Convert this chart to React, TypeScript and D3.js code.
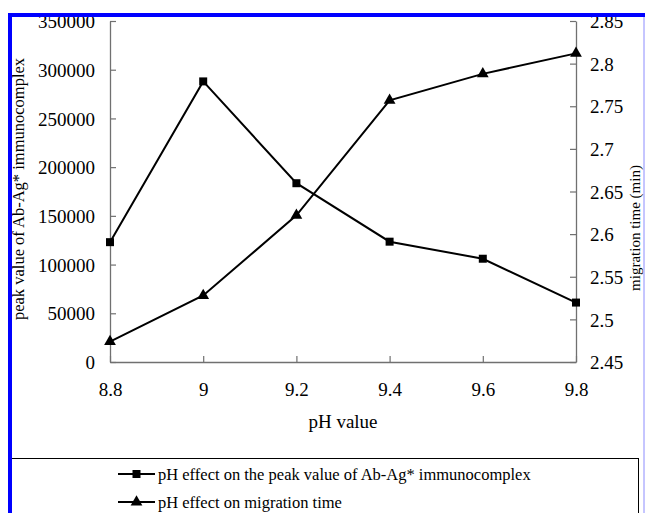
import React, { useEffect, useRef } from "react";
import * as d3 from "d3";

const phLabels = ["8.8", "9", "9.2", "9.4", "9.6", "9.8"];
const peakValues = [123000, 288000, 183500, 123500, 106000, 61000];
const migrationTimes = [2.474, 2.528, 2.622, 2.757, 2.788, 2.812];
const leftTicks = [0, 50000, 100000, 150000, 200000, 250000, 300000, 350000];
const rightTicks = [2.45, 2.5, 2.55, 2.6, 2.65, 2.7, 2.75, 2.8, 2.85];
const legendLabels = [
  "pH effect on the peak value of Ab-Ag* immunocomplex",
  "pH effect on migration time",
];

const W = 645;
const H = 513;
const FONT = "'Liberation Serif', 'Times New Roman', serif";

export default function App() {
  const ref = useRef<SVGSVGElement>(null);

  useEffect(() => {
    const svg = d3.select(ref.current);
    svg.selectAll("*").remove();

    const x = d3.scalePoint().domain(phLabels).range([110, 576]);
    const yLeft = d3.scaleLinear().domain([0, 350000]).range([362, 21]);
    const yRight = d3.scaleLinear().domain([2.45, 2.85]).range([362, 21]);
    const axisColor = "#707070";

    // axes
    const gx = svg.append("g").attr("transform", "translate(0,362)")
      .call(d3.axisBottom(x).tickSizeInner(-6).tickSizeOuter(0).tickPadding(21));
    const gl = svg.append("g").attr("transform", "translate(110,0)")
      .call(d3.axisLeft(yLeft).tickValues(leftTicks).tickFormat(d3.format("d")).tickSizeInner(-6).tickSizeOuter(0).tickPadding(15));
    const gr = svg.append("g").attr("transform", "translate(576,0)")
      .call(d3.axisRight(yRight).tickValues(rightTicks).tickFormat((d: any) => String(+(+d).toFixed(2))).tickSizeInner(-6).tickSizeOuter(0).tickPadding(14));

    [gx, gl, gr].forEach(g => {
      g.attr("font-family", FONT).attr("font-size", 19);
      g.select(".domain").attr("stroke", axisColor).attr("stroke-width", 1.3);
      g.selectAll(".tick line").attr("stroke", axisColor).attr("stroke-width", 1.2);
      g.selectAll(".tick text").attr("fill", "#000");
    });
    gl.selectAll(".tick text").attr("dy", "0.35em");
    gr.selectAll(".tick text").attr("dy", "0.35em");

    // series
    const line1 = d3.line<number>().x((_, i) => x(phLabels[i])!).y(d => yLeft(d));
    const line2 = d3.line<number>().x((_, i) => x(phLabels[i])!).y(d => yRight(d));

    svg.append("path").datum(peakValues).attr("d", line1).attr("fill", "none").attr("stroke", "#000").attr("stroke-width", 2);
    svg.append("path").datum(migrationTimes).attr("d", line2).attr("fill", "none").attr("stroke", "#000").attr("stroke-width", 2);

    const sq = d3.symbol().type(d3.symbolSquare).size(64);
    const tri = d3.symbol().type(d3.symbolTriangle).size(60);

    svg.append("g").selectAll("path").data(peakValues).join("path")
      .attr("d", sq).attr("fill", "#000")
      .attr("transform", (d, i) => `translate(${x(phLabels[i])},${yLeft(d)})`);
    svg.append("g").selectAll("path").data(migrationTimes).join("path")
      .attr("d", tri).attr("fill", "#000")
      .attr("transform", (d, i) => `translate(${x(phLabels[i])},${yRight(d)})`);

    // axis titles
    svg.append("text").attr("x", 343).attr("y", 428).attr("text-anchor", "middle")
      .attr("font-family", FONT).attr("font-size", 19).text("pH value");
    svg.append("text").attr("transform", "translate(18,189) rotate(-90)").attr("dy", "0.35em")
      .attr("text-anchor", "middle").attr("font-family", FONT).attr("font-size", 16.5)
      .text("peak value of Ab-Ag* immunocomplex");
    svg.append("text").attr("transform", "translate(635,228) rotate(-90)").attr("dy", "0.35em")
      .attr("text-anchor", "middle").attr("font-family", FONT).attr("font-size", 15)
      .text("migration time (min)");

    // legend
    const lg = svg.append("g");
    lg.append("line").attr("x1", 12).attr("x2", 638).attr("y1", 458.5).attr("y2", 458.5).attr("stroke", "#000").attr("stroke-width", 1);
    lg.append("line").attr("x1", 638.5).attr("x2", 638.5).attr("y1", 458).attr("y2", H).attr("stroke", "#000").attr("stroke-width", 1);
    const rows = [474, 502];
    legendLabels.forEach((label, i) => {
      const y = rows[i];
      lg.append("line").attr("x1", 118).attr("x2", 155).attr("y1", y).attr("y2", y).attr("stroke", "#000").attr("stroke-width", 2);
      lg.append("path").attr("d", i === 0 ? sq : tri).attr("fill", "#000").attr("transform", `translate(136.5,${y})`);
      lg.append("text").attr("x", 158).attr("y", y).attr("dy", "0.35em")
        .attr("font-family", FONT).attr("font-size", 16.5).text(label);
    });

    // blue frame
    svg.append("rect").attr("x", 8).attr("y", 13).attr("width", W - 8).attr("height", 4).attr("fill", "#0000ff");
    svg.append("rect").attr("x", 8).attr("y", 13).attr("width", 4).attr("height", H - 13).attr("fill", "#0000ff");
    svg.append("line").attr("x1", 644).attr("x2", 644).attr("y1", 17).attr("y2", H).attr("stroke", "#8c8cff").attr("stroke-width", 1);
  }, []);

  return (
    <svg ref={ref} width={W} height={H} style={{ position: "absolute", left: 0, top: 0, background: "#fff" }} />
  );
}
